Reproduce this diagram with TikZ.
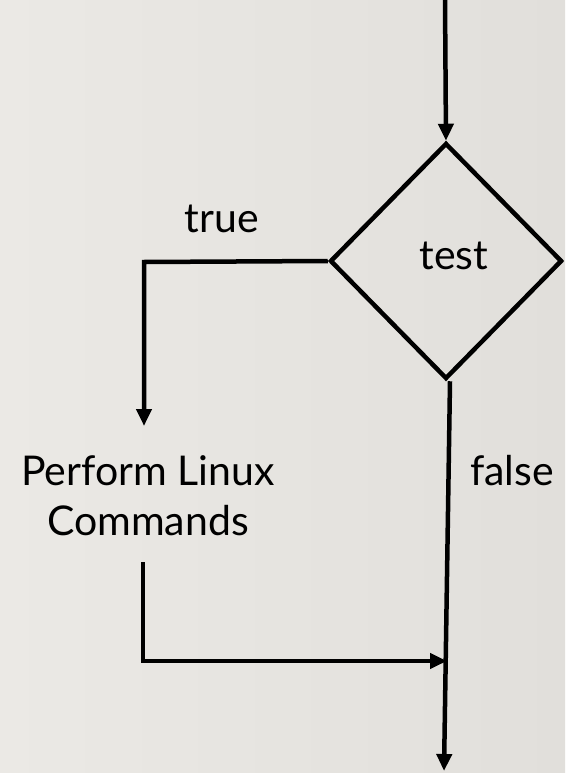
\documentclass[tikz,border=0pt]{standalone}
\usepackage{fontspec}
\setmainfont{Lato}
\usetikzlibrary{shapes.geometric,arrows.meta}
\definecolor{bgleft}{HTML}{EBE9E5}
\definecolor{bgright}{HTML}{E1DFDB}
\begin{document}
\begin{tikzpicture}[x=1pt,y=-1pt,
  flow/.style={line width=4.5pt,-{Triangle[width=15pt,length=17pt]}},
  lbl/.style={font=\fontsize{41}{50}\selectfont,inner sep=0pt}]
  % page and background
  \shade[left color=bgleft,right color=bgright] (0,0) rectangle (565,773);
  \useasboundingbox (0,0) rectangle (565,773);

  % decision
  \node[diamond,draw,line width=4.5pt,minimum width=232pt,minimum height=236pt,inner sep=0pt] (test) at (446,261) {};
  \node[lbl] (testlbl) at (454,256) {test};

  % entry and exits
  \coordinate (entry) at (445,0);
  \coordinate (trueturn) at (144,262);
  \coordinate (truetip) at (144,426);
  \coordinate (join) at (447,661);
  \coordinate (exit) at (444,771);
  \coordinate (cmdtop) at (143,562);
  \coordinate (cmdturn) at (143,661);

  \node[lbl] (truelbl) at (222,219) {true};
  \node[lbl] (falselbl) at (512,471) {false};
  \node[lbl,align=center,font=\fontsize{41}{50}\selectfont] (cmd) at (148,496) {Perform Linux\\Commands};

  \draw[flow] (entry) -- (test.north);
  \draw[flow] (test.west) -- (trueturn) -- (truetip);
  \draw[flow] ([xshift=4pt]test.south) -- (exit);
  \draw[flow] (cmdtop) -- (cmdturn) -- (join);
\end{tikzpicture}
\end{document}
